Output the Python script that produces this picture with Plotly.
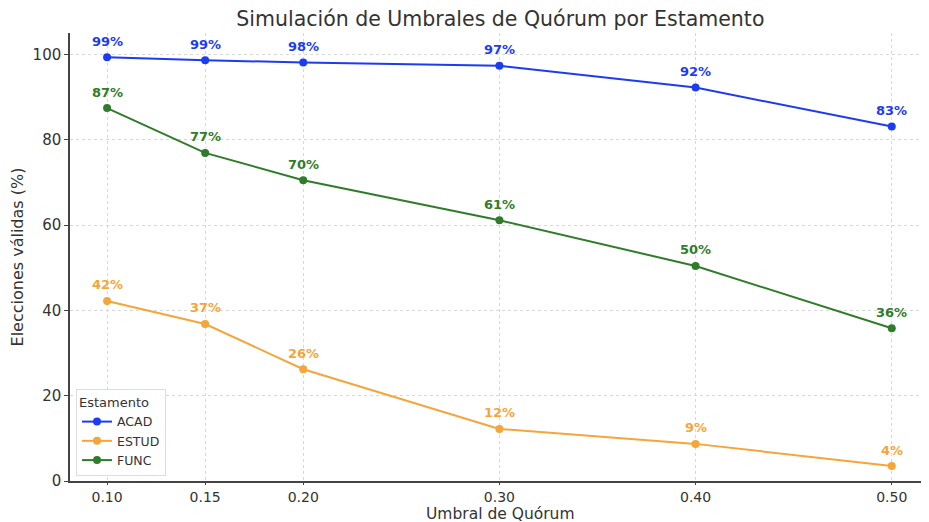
import plotly.graph_objects as go

umbrales = [0.10, 0.15, 0.20, 0.30, 0.40, 0.50]
acad = [99.3, 98.6, 98.1, 97.3, 92.2, 83.1]
estud = [42.2, 36.8, 26.2, 12.2, 8.7, 3.5]
func = [87.4, 76.9, 70.5, 61.1, 50.4, 35.8]
tick_labels = ["0.10", "0.15", "0.20", "0.30", "0.40", "0.50"]

series = [
    ("ACAD", acad, "#1c3cf0"),
    ("ESTUD", estud, "#f5a53a"),
    ("FUNC", func, "#2f7d2a"),
]

fig = go.Figure()
annotations = []
for name, vals, color in series:
    fig.add_trace(go.Scatter(
        x=umbrales, y=vals, mode="lines+markers", name=name,
        line=dict(color=color, width=2), marker=dict(color=color, size=8),
    ))
    for xv, yv in zip(umbrales, vals):
        annotations.append(dict(
            x=xv, y=yv, text=f"{round(yv):.0f}%", showarrow=False,
            yshift=16, font=dict(family="DejaVu Sans", size=13, color=color, weight="bold"),
        ))

# x-axis title as paper annotation for precise placement
annotations.append(dict(
    text="Umbral de Quórum", xref="paper", yref="paper", x=0.5, y=-0.073,
    xanchor="center", yanchor="middle", showarrow=False,
    font=dict(family="DejaVu Sans", size=15.5, color="#333333"),
))

fig.update_layout(
    width=929, height=522,
    margin=dict(l=62, r=6, t=25, b=49),
    paper_bgcolor="white", plot_bgcolor="white",
    font=dict(family="DejaVu Sans", color="#333333", size=15),
    title=dict(text="Simulación de Umbrales de Quórum por Estamento", x=0.53, xanchor="center",
               y=1 - 11 / 522, yanchor="middle", font=dict(size=20.5, color="#333333")),
    annotations=annotations,
    legend=dict(
        title=dict(text="Estamento", font=dict(size=13)), x=0.007, y=0.011, xanchor="left", yanchor="bottom",
        bordercolor="#dddddd", borderwidth=1, bgcolor="rgba(255,255,255,0.9)", font=dict(size=12.5),
        tracegroupgap=0,
    ),
    showlegend=True,
)
fig.update_xaxes(
    range=[0.0811, 0.52], tickvals=umbrales, ticktext=tick_labels,
    showgrid=True, gridcolor="#d8d8d8", griddash="dot", gridwidth=1,
    showline=True, linecolor="#444444", linewidth=1.5, ticks="outside", ticklen=2, tickcolor="#444444",
    zeroline=False, tickfont=dict(size=14),
)
fig.update_yaxes(
    range=[0, 105], tickvals=[0, 20, 40, 60, 80, 100],
    showgrid=True, gridcolor="#d8d8d8", griddash="dot", gridwidth=1,
    showline=True, linecolor="#444444", linewidth=1.5, ticks="outside", ticklen=4, tickcolor="#444444",
    zeroline=False, tickfont=dict(size=15), title=dict(text="Elecciones válidas (%)", standoff=6, font=dict(size=16)),
)
fig.write_html("out.html")
